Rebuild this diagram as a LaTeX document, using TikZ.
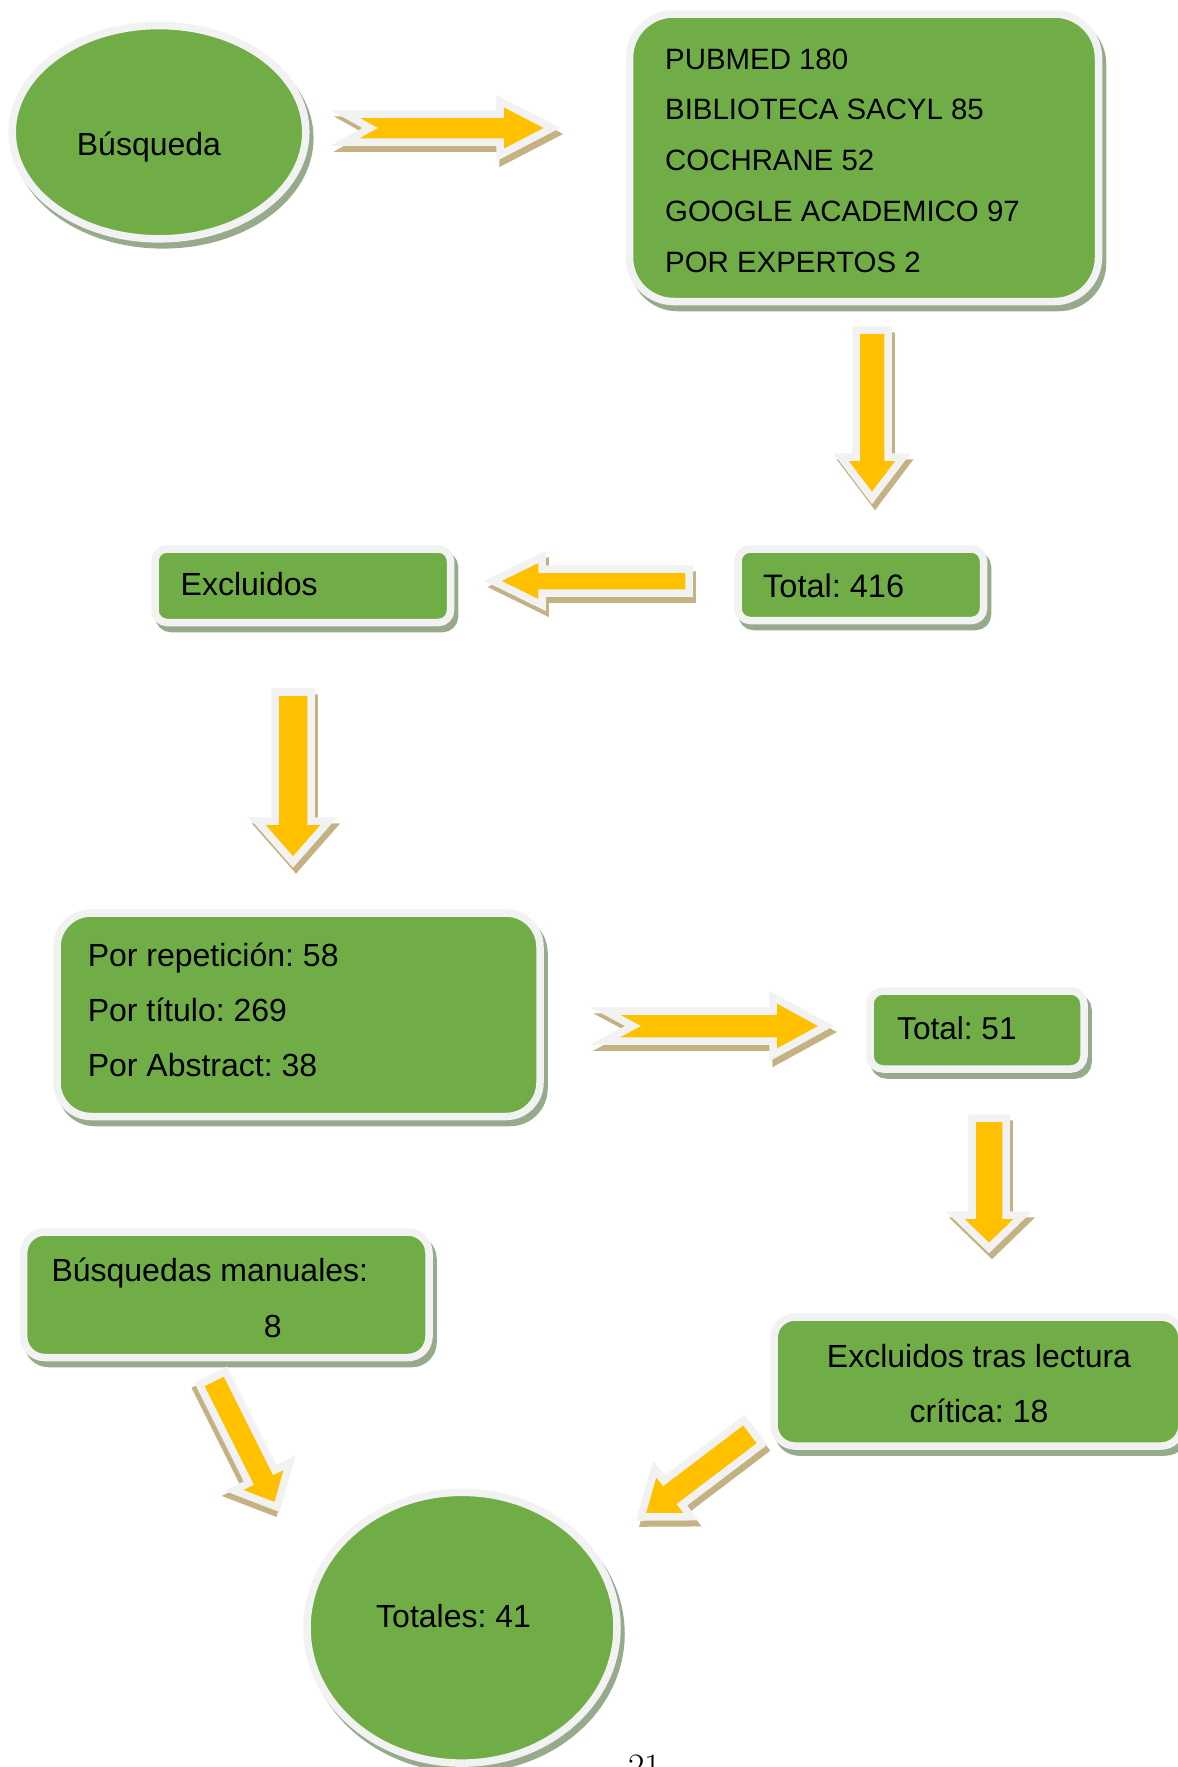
\documentclass[tikz,border=0pt]{standalone}
\usepackage{fontspec}
\newfontfamily\arial{Liberation Sans}
\usetikzlibrary{shapes.geometric,calc}
\definecolor{gfill}{HTML}{70AD47}
\definecolor{gline}{HTML}{F2F2F2}
\definecolor{gshadow}{RGB}{152,170,140}
\definecolor{afill}{HTML}{FFC000}
\definecolor{ashadow}{RGB}{196,178,130}
\tikzset{
  gshape/.style={draw=gline, line width=7.5pt, fill=gfill, inner sep=0pt,
     preaction={draw=gshadow, fill=gshadow, transform canvas={xshift=4pt,yshift=-6pt}}},
  gbox/.style={gshape, rectangle, rounded corners=#1},
  goval/.style={gshape, ellipse},
  lbl/.style={inner sep=0pt, anchor=base west, text=black, font=\arial\fontsize{32}{36}\selectfont},
  barrowstyle/.style={draw=gline, fill=afill, line width=7.5pt, line join=miter},
  bshadowstyle/.style={draw=ashadow, fill=ashadow, line width=7.5pt, line join=miter},
}
% tail, tip, shaft half width, head half width, head length, notch depth, shadow dx, shadow dy
\newcommand\blockarrow[8]{%
  \coordinate (hb) at ($(#2)!#5!(#1)$);
  \draw[bshadowstyle, transform canvas={xshift=#7, yshift=#8}]
    ($(#1)!#3!90:(#2)$) -- ($(hb)!#3!90:(#2)$) -- ($(hb)!#4!90:(#2)$) -- (#2)
    -- ($(hb)!#4!-90:(#2)$) -- ($(hb)!#3!-90:(#2)$) -- ($(#1)!#3!-90:(#2)$)
    -- ($(#1)!#6!(#2)$) -- cycle;
  \draw[barrowstyle]
    ($(#1)!#3!90:(#2)$) -- ($(hb)!#3!90:(#2)$) -- ($(hb)!#4!90:(#2)$) -- (#2)
    -- ($(hb)!#4!-90:(#2)$) -- ($(hb)!#3!-90:(#2)$) -- ($(#1)!#3!-90:(#2)$)
    -- ($(#1)!#6!(#2)$) -- cycle;
}
\begin{document}
\frenchspacing
\begin{tikzpicture}[x=1pt,y=-1pt]
\clip (0,0) rectangle (1178,1767);
\fill[white] (0,0) rectangle (1178,1767);

% shapes
\node[goval, minimum width=293.6pt, minimum height=213.3pt] (busq) at (159,132.2) {};
\node[gbox=44pt, minimum width=469pt, minimum height=287.5pt] (src) at (864,157.75) {};
\node[gbox=12pt, minimum width=245.5pt, minimum height=71.5pt] (tot416) at (860.75,584.75) {};
\node[gbox=12pt, minimum width=295.5pt, minimum height=73.5pt] (excl) at (302.75,585.75) {};
\node[gbox=34pt, minimum width=483pt, minimum height=203.5pt] (motivos) at (298.5,1014.75) {};
\node[gbox=13pt, minimum width=214pt, minimum height=78pt] (tot51) at (977,1030) {};
\node[gbox=21pt, minimum width=405.3pt, minimum height=125.5pt] (manual) at (226.35,1294.75) {};
\node[gbox=21pt, minimum width=408pt, minimum height=129pt] (critica) at (978,1381.5) {};
\node[goval, minimum width=310pt, minimum height=270.8pt] (totales) at (462,1627.7) {};

% texts
\node[lbl] (busqT) at (76.7,155) {Búsqueda};
\begin{scope}[every node/.style={lbl, font=\arial\fontsize{29.4}{34}\selectfont}]
\node (s1) at (665,69) {PUBMED 180};
\node (s2) at (665,119) {BIBLIOTECA SACYL 85};
\node (s3) at (665,170) {COCHRANE 52};
\node (s4) at (665,221) {GOOGLE ACADEMICO 97};
\node (s5) at (665,272) {POR EXPERTOS 2};
\end{scope}
\node[lbl, font=\arial\fontsize{32.5}{36}\selectfont] (tot416T) at (763,597) {Total: 416};
\node[lbl] (exclT) at (180.5,595) {Excluidos};
\node[lbl] (m1) at (87.6,966.7) {Por repetición: 58};
\node[lbl] (m2) at (87.6,1021.7) {Por título: 269};
\node[lbl] (m3) at (87.6,1076.7) {Por Abstract: 38};
\node[lbl, font=\arial\fontsize{31.6}{36}\selectfont] (tot51T) at (897,1039) {Total: 51};
\node[lbl] (manualT1) at (51.3,1281) {Búsquedas manuales:};
\node[lbl] (manualT2) at (263.7,1337.4) {8};
\node[lbl, anchor=base] (criticaT1) at (979,1367) {Excluidos tras lectura};
\node[lbl, anchor=base] (criticaT2) at (979,1422) {crítica: 18};
\node[lbl] (totalesT) at (376,1627) {Totales: 41};
\node[inner sep=0pt, anchor=base west, font=\fontsize{35.7}{40}\selectfont] (pg) at (628,1778) {21};

% arrows
\coordinate (a1t) at (345,128);   \coordinate (a1h) at (552,128);
\coordinate (a2t) at (872,330);   \coordinate (a2h) at (872,498);
\coordinate (a3t) at (689,581);   \coordinate (a3h) at (493,581);
\coordinate (a4t) at (293,692);   \coordinate (a4h) at (293,862);
\coordinate (a5t) at (605,1026);  \coordinate (a5h) at (826,1026);
\coordinate (a6t) at (989,1118);  \coordinate (a6h) at (989,1248);
\coordinate (a7t) at (212.5,1378);\coordinate (a7h) at (277,1507);
\coordinate (a8t) at (753,1432);  \coordinate (a8h) at (641,1517);

\blockarrow{a1t}{a1h}{14pt}{27pt}{52pt}{25pt}{3pt}{-6pt}
\blockarrow{a2t}{a2h}{16pt}{31pt}{41pt}{0pt}{3pt}{-6pt}
\blockarrow{a3t}{a3h}{12pt}{24pt}{49pt}{0pt}{3pt}{-6pt}
\blockarrow{a4t}{a4h}{18pt}{36pt}{41pt}{0pt}{3pt}{-6pt}
\blockarrow{a5t}{a5h}{15pt}{29pt}{53pt}{28pt}{3pt}{-6pt}
\blockarrow{a6t}{a6h}{17pt}{34pt}{33pt}{0pt}{3pt}{-6pt}
\blockarrow{a7t}{a7h}{14.5pt}{31pt}{34pt}{0pt}{-3pt}{-5pt}
\blockarrow{a8t}{a8h}{15pt}{30pt}{40pt}{0pt}{3pt}{-6pt}
\end{tikzpicture}
\end{document}
